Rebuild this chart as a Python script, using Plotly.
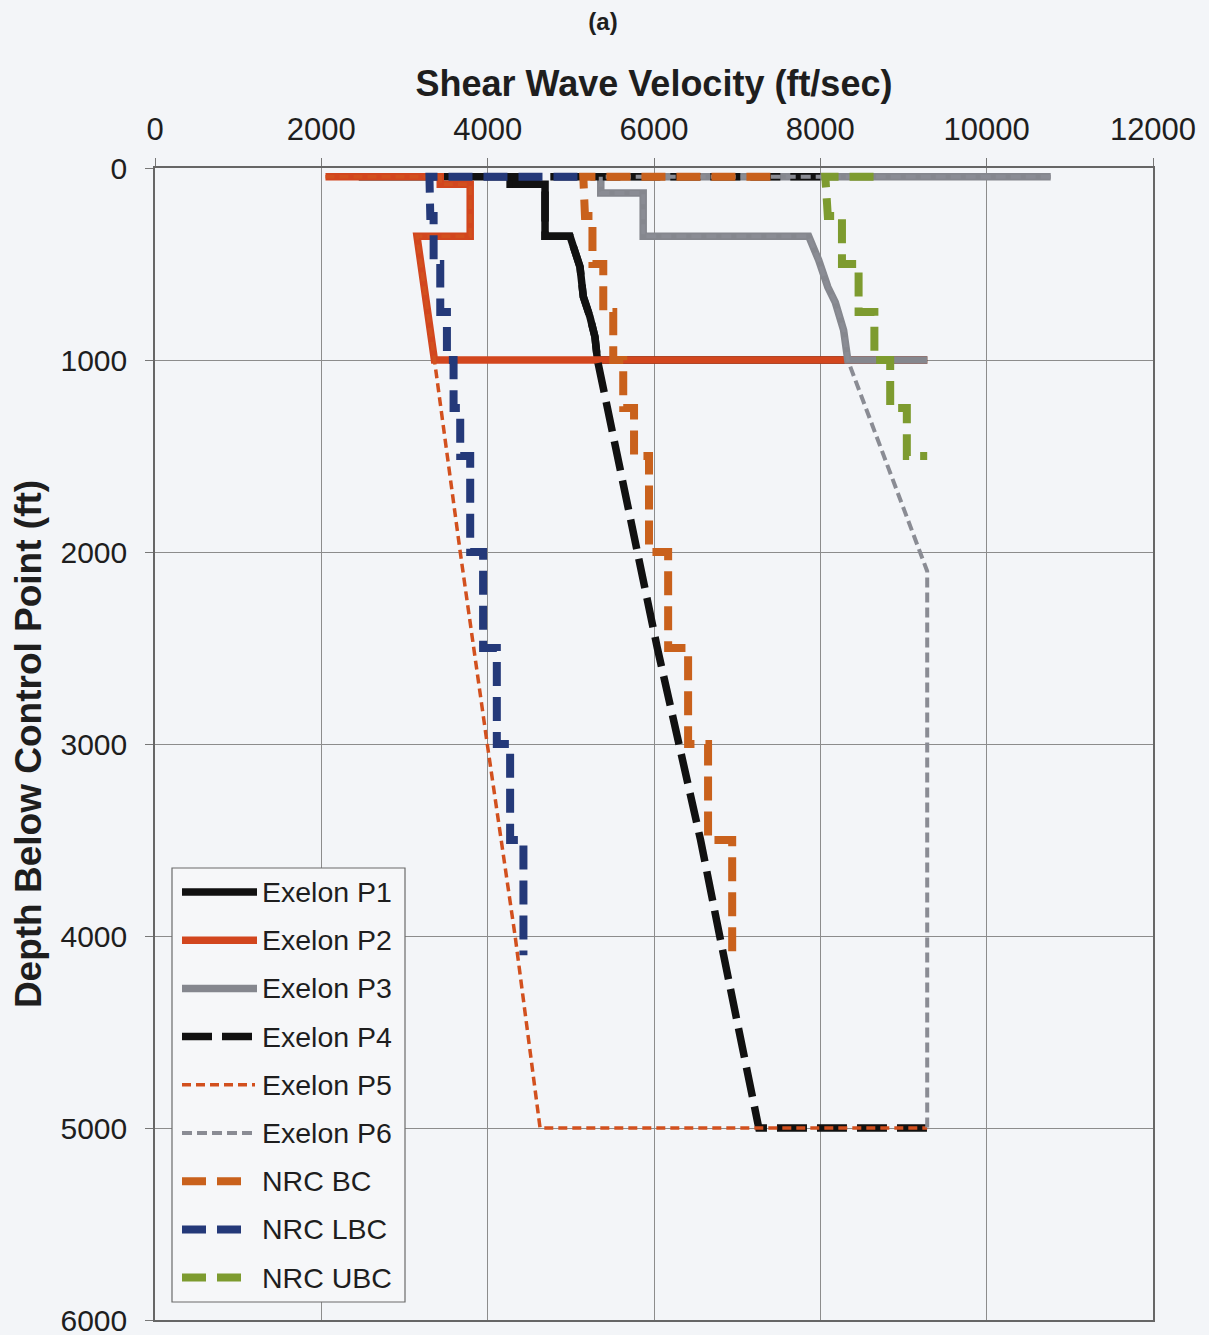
import plotly.graph_objects as go

# ---- Shear-wave velocity profiles (ft/sec) vs depth below control point (ft) ----
p1_vs = [2450, 4270, 4270, 4690, 4690, 4990, 5110, 5150, 5230, 5290, 5320, 9285]
p1_depth = [45, 45, 85, 85, 355, 355, 515, 670, 775, 880, 1000, 1000]

p2_vs = [2050, 3430, 3430, 3790, 3790, 3150, 3360, 9285]
p2_depth = [45, 45, 85, 85, 355, 355, 1000, 1000]

p3_vs = [10770, 5360, 5360, 5870, 5870, 7860, 7980, 8090, 8180, 8280, 8330, 9285]
p3_depth = [45, 45, 130, 130, 355, 355, 480, 620, 700, 845, 1000, 1000]

p4_vs = [8000, 4270, 4270, 4690, 4690, 4990, 5110, 5150, 5230, 5290, 5320,
         5550, 5800, 6040, 6300, 6560, 6790, 7030, 7260, 9285]
p4_depth = [45, 45, 85, 85, 355, 355, 515, 670, 775, 880, 1000,
            1500, 2000, 2500, 3000, 3500, 4000, 4500, 5000, 5000]

p5_vs = [2050, 3430, 3430, 3790, 3790, 3150, 3360, 3670, 3995, 4330, 4630, 9285]
p5_depth = [45, 45, 85, 85, 355, 355, 1000, 2000, 3000, 4000, 5000, 5000]

p6_vs = [10770, 5360, 5360, 5870, 5870, 7860, 7980, 8090, 8180, 8280, 8330, 9285, 9285]
p6_depth = [45, 45, 130, 130, 355, 355, 480, 620, 700, 845, 1000, 2100, 5000]

nrc_depth = [45, 45, 250, 250, 500, 500, 750, 750, 1000, 1000, 1250, 1250,
             1500, 1500, 2000, 2000, 2500, 2500, 3000, 3000, 3500, 3500, 4100]
nrc_bc_vs = [7400, 5150, 5170, 5260, 5260, 5390, 5390, 5510, 5510, 5630, 5630, 5760,
             5760, 5940, 5940, 6170, 6170, 6410, 6410, 6650, 6650, 6940, 6940]
nrc_lbc_vs = [5080, 3300, 3310, 3350, 3350, 3430, 3430, 3510, 3510, 3590, 3590, 3670,
              3670, 3790, 3790, 3945, 3945, 4110, 4110, 4270, 4270, 4430, 4430]

nrc_ubc_depth = [45, 45, 250, 250, 500, 500, 750, 750, 1000, 1000, 1250, 1250, 1500, 1500]
nrc_ubc_vs = [8640, 8060, 8090, 8260, 8260, 8460, 8460, 8650, 8650, 8840, 8840, 9040, 9040, 9285]

x_ticks = [0, 2000, 4000, 6000, 8000, 10000, 12000]
y_ticks = [0, 1000, 2000, 3000, 4000, 5000, 6000]

# name, x, y, colour, width, dash, legend sample length (px)
series = [
    ("Exelon P1", p1_vs, p1_depth, "#111111", 7.5, "solid", 75),
    ("Exelon P2", p2_vs, p2_depth, "#D2461E", 7.5, "solid", 75),
    ("Exelon P3", p3_vs, p3_depth, "#85878E", 7.5, "solid", 75),
    ("Exelon P4", p4_vs, p4_depth, "#111111", 7.5, "30px,10px", 70),
    ("Exelon P5", p5_vs, p5_depth, "#D2501E", 3.5, "9px,5px", 73),
    ("Exelon P6", p6_vs, p6_depth, "#8A8C94", 4, "10px,5px", 73),
    ("NRC BC", nrc_bc_vs, nrc_depth, "#C9611C", 8, "24px,11px", 61),
    ("NRC LBC", nrc_lbc_vs, nrc_depth, "#243979", 8, "24px,11px", 61),
    ("NRC UBC", nrc_ubc_vs, nrc_ubc_depth, "#7D9B2F", 8, "24px,11px", 61),
]

W, H = 1209, 1335
L, R, T, B = 155, 56, 168, 15
PW, PH = W - L - R, H - T - B


def px_x(px):
    return (px - L) / PW


def px_y(py):
    return (H - B - py) / PH


fig = go.Figure()
for name, xs, ys, color, width, dash, _ in series:
    fig.add_trace(go.Scatter(
        x=xs, y=ys, mode="lines", name=name, showlegend=False,
        line=dict(color=color, width=width, dash=dash),
    ))

# boxed legend in the lower-left corner of the plot
shapes = [dict(type="rect", xref="paper", yref="paper",
               x0=px_x(172), x1=px_x(405), y0=px_y(1302), y1=px_y(868),
               line=dict(color="#6b6b6b", width=1.2), fillcolor="#F6F7F9", layer="above")]
annotations = []
for i, (name, _, _, color, width, dash, length) in enumerate(series):
    yc = 892 + i * 48.2
    shapes.append(dict(type="line", xref="paper", yref="paper",
                       x0=px_x(182), x1=px_x(182 + length), y0=px_y(yc), y1=px_y(yc),
                       line=dict(color=color, width=width, dash=dash), layer="above"))
    annotations.append(dict(xref="paper", yref="paper", x=px_x(260), y=px_y(yc),
                            text=name, showarrow=False, xanchor="left", yanchor="middle",
                            font=dict(size=28.5, color="#1e1e1e")))

fig.update_layout(
    width=W, height=H,
    margin=dict(l=L, r=R, t=T, b=B, autoexpand=False),
    paper_bgcolor="#F3F5F8", plot_bgcolor="#F3F5F8",
    font=dict(family="Liberation Sans, Arial, sans-serif", color="#1e1e1e"),
    title=dict(text="<b>(a)</b>", x=603 / W, xref="container", xanchor="center",
               y=1 - 22 / H, yanchor="middle", font=dict(size=24, color="#1e1e1e")),
    shapes=shapes, annotations=annotations,
    xaxis=dict(
        side="top", range=[0, 12000], tickvals=x_ticks,
        ticktext=[str(v) for v in x_ticks],
        tickfont=dict(size=31), ticks="outside", ticklen=8, tickcolor="#777777",
        ticklabelstandoff=6, ticklabeloverflow="allow",
        showgrid=True, gridcolor="#8C8C8C", gridwidth=1,
        showline=True, linecolor="#666666", linewidth=1.5, mirror=True,
        zeroline=False,
        title=dict(text="<b>Shear Wave Velocity (ft/sec)</b>", font=dict(size=36), standoff=4),
    ),
    yaxis=dict(
        range=[6000, 0], tickvals=y_ticks, ticktext=[str(v) for v in y_ticks],
        tickfont=dict(size=30), ticks="outside", ticklen=8, tickcolor="#777777",
        ticklabelstandoff=12, ticklabeloverflow="allow",
        showgrid=True, gridcolor="#8C8C8C", gridwidth=1,
        showline=True, linecolor="#666666", linewidth=1.5, mirror=True,
        zeroline=False,
        title=dict(text="<b>Depth Below Control Point (ft)</b>", font=dict(size=37), standoff=8),
    ),
)

fig.write_html("out.html")
